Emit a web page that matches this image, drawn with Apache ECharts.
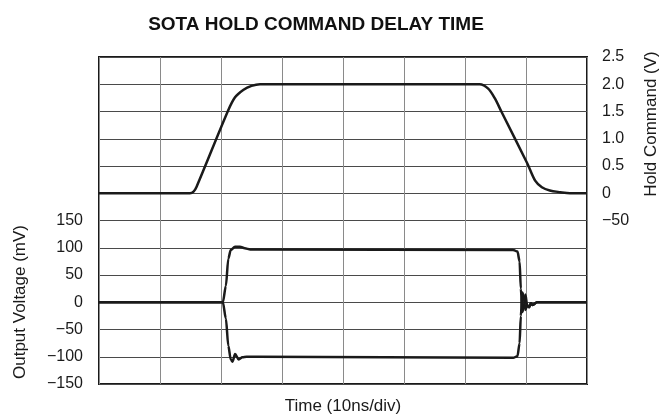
<!DOCTYPE html>
<html>
<head>
<meta charset="utf-8">
<script src="https://cdn.jsdelivr.net/npm/echarts@6/dist/echarts.min.js"></script>
<style>
  html, body { margin: 0; padding: 0; background: #fff; }
  #chart { width: 661px; height: 420px; }
</style>
</head>
<body>
<div id="chart"></div>
<script>
// hold command trace (V) vs time (ns)
const holdTime = [0, 14.9, 15.5, 16.0, 21.1, 22.3, 23.7, 25.0, 26.4, 62.4, 63.8, 64.9, 66.0, 70.2, 71.5, 72.6, 73.9, 75.6, 77.2, 80];
const holdVolts = [0, 0, 0.03, 0.12, 1.5, 1.76, 1.9, 1.97, 2.0, 2.0, 1.92, 1.74, 1.49, 0.55, 0.23, 0.11, 0.05, 0.02, 0, 0];

// output voltage traces (mV)
const upperTime = [0, 20.3, 20.8, 21.2, 21.6, 22.3, 23.1, 23.9, 24.8, 26, 67.9, 68.6, 68.95, 69.15, 69.4, 69.65, 69.9, 70.2, 70.5, 70.8, 71.1, 71.8, 80];
const upperMv = [0, 0, 30, 80, 96, 102, 102, 99, 97, 97, 96, 93, 75, 25, -18, -8, 14, -6, -9, -2, -5, 0, 0];
const lowerTime = [0, 20.3, 20.8, 21.2, 21.6, 21.9, 22.3, 22.9, 23.5, 24.2, 26, 67.9, 68.6, 68.95, 69.15, 69.4, 69.65, 69.9, 70.2, 70.5, 70.8, 71.1, 71.8, 80];
const lowerMv = [0, 0, -30, -80, -105, -109, -95, -105, -101, -100, -100, -102, -99, -75, -25, 18, 8, -14, -6, -9, -2, -5, 0, 0];

// tick labels
const leftTicks = [-150, -100, -50, 0, 50, 100, 150];
const leftLabels = ['\u2212150', '\u2212100', '\u221250', '0', '50', '100', '150'];
const rightTicks = [-0.5, 0, 0.5, 1.0, 1.5, 2.0, 2.5];
const rightLabels = ['\u221250', '0', '0.5', '1.0', '1.5', '2.0', '2.5'];

const FONT = '"Liberation Sans", Arial, Helvetica, sans-serif';
const INK = '#1a1a1a';

const zip = (xs, ys) => xs.map((x, i) => [x, ys[i]]);
const pick = (ticks, labels) => (v) => {
    const i = ticks.findIndex(t => Math.abs(t - v) < 1e-6);
    return i >= 0 ? labels[i] : '';
};

const lineSeries = (name, data, yIndex, monotone) => ({
    name: name,
    type: 'line',
    yAxisIndex: yIndex,
    data: data,
    smooth: 0.3,
    smoothMonotone: monotone,
    showSymbol: false,
    symbol: 'none',
    lineStyle: { color: INK, width: 2.5 },
    silent: true,
    animation: false
});

const chart = echarts.init(document.getElementById('chart'));
chart.setOption({
    animation: false,
    title: {
        text: 'SOTA HOLD COMMAND DELAY TIME',
        left: 311,
        textAlign: 'center',
        top: 10,
        textStyle: { fontFamily: FONT, fontSize: 19, fontWeight: 'bold', color: '#111' }
    },
    grid: {
        left: 99, right: 74, top: 57, bottom: 33,
        show: true,
        borderColor: INK,
        borderWidth: 2
    },
    xAxis: {
        type: 'value',
        min: 0, max: 80, interval: 10,
        name: 'Time (10ns/div)',
        nameLocation: 'middle',
        nameGap: 14,
        nameTextStyle: { fontFamily: FONT, fontSize: 17, color: INK },
        axisLine: { show: false },
        axisTick: { show: false },
        axisLabel: { show: false },
        splitLine: { show: true, lineStyle: { color: '#8a8a8a', width: 1 } }
    },
    yAxis: [
        {
            type: 'value',
            min: -150, max: 450, interval: 50,
            axisLine: { show: false },
            axisTick: { show: false },
            axisLabel: {
                margin: 16,
                padding: [6, 0, 0, 0],
                fontFamily: FONT, fontSize: 16, color: INK,
                formatter: pick(leftTicks, leftLabels)
            },
            splitLine: { show: true, lineStyle: { color: '#4a4a4a', width: 1 } }
        },
        {
            type: 'value',
            position: 'right',
            min: -3.5, max: 2.5, interval: 0.5,
            axisLine: { show: false },
            axisTick: { show: false },
            axisLabel: {
                margin: 15,
                padding: [2, 0, 0, 0],
                fontFamily: FONT, fontSize: 16, color: INK,
                formatter: pick(rightTicks, rightLabels)
            },
            splitLine: { show: false }
        }
    ],
    graphic: [
        {
            type: 'text',
            x: 20, y: 302,
            rotation: Math.PI / 2,
            style: {
                text: 'Output Voltage (mV)',
                font: '17px ' + FONT,
                fill: INK,
                align: 'center',
                verticalAlign: 'middle'
            }
        },
        {
            type: 'text',
            x: 651, y: 124,
            rotation: Math.PI / 2,
            style: {
                text: 'Hold Command (V)',
                font: '17px ' + FONT,
                fill: INK,
                align: 'center',
                verticalAlign: 'middle'
            }
        }
    ],
    series: [
        lineSeries('Hold Command', zip(holdTime, holdVolts), 1, null),
        lineSeries('Output +', zip(upperTime, upperMv), 0, 'x'),
        lineSeries('Output -', zip(lowerTime, lowerMv), 0, 'x')
    ]
});
</script>
</body>
</html>
